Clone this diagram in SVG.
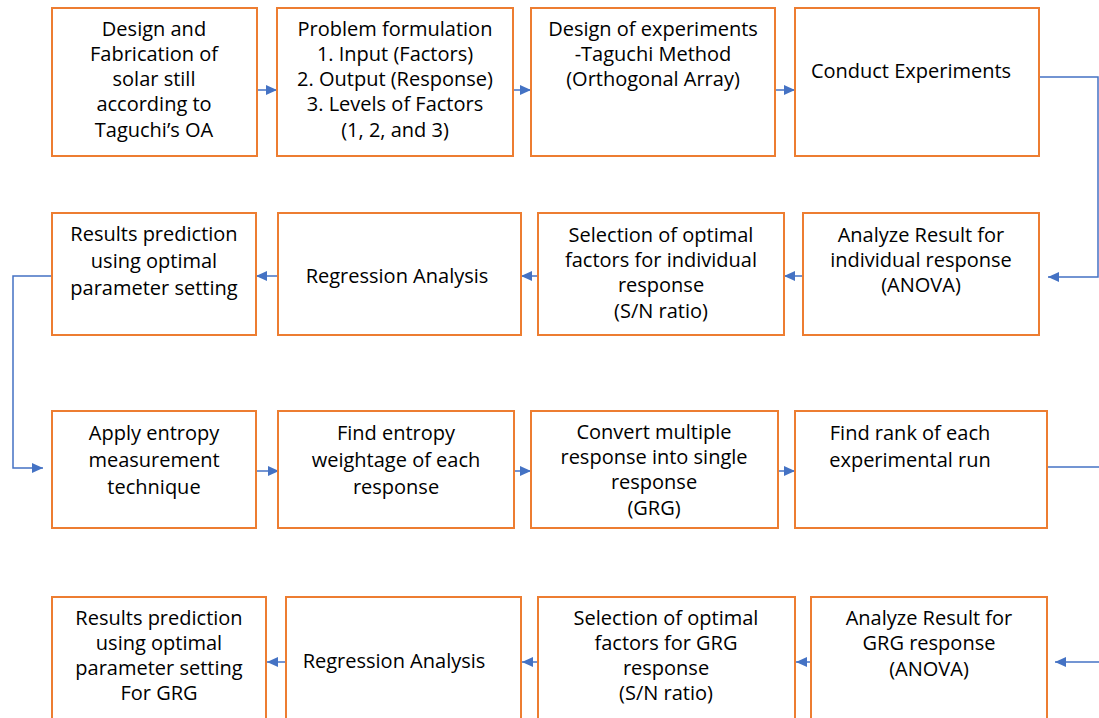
<svg xmlns="http://www.w3.org/2000/svg" width="1099" height="718" viewBox="0 0 1099 718">
<style>
.box{fill:#fff;stroke:#ED7D31;stroke-width:2}
.t{font-family:"Open Sans","Liberation Sans",sans-serif;font-size:20px;fill:#000;text-anchor:middle}
.c{fill:none;stroke:#4472C4;stroke-width:1.5}
</style>
<defs>
<marker id="ah" markerUnits="userSpaceOnUse" markerWidth="12" markerHeight="10" refX="11" refY="5" orient="auto">
<path d="M0,0 L11,5 L0,10 Z" fill="#4472C4"/>
</marker>
</defs>
<rect width="1099" height="718" fill="#fff"/>

<g id="connectors">
<line class="c" x1="257" y1="90" x2="277" y2="90" marker-end="url(#ah)"/>
<line class="c" x1="513" y1="90" x2="531" y2="90" marker-end="url(#ah)"/>
<line class="c" x1="775" y1="90" x2="795" y2="90" marker-end="url(#ah)"/>
<polyline class="c" points="1039,77 1098,77 1098,277 1048,277" marker-end="url(#ah)"/>
<line class="c" x1="803" y1="276" x2="784" y2="276" marker-end="url(#ah)"/>
<line class="c" x1="538" y1="276" x2="521" y2="276" marker-end="url(#ah)"/>
<line class="c" x1="278" y1="276" x2="256" y2="276" marker-end="url(#ah)"/>
<polyline class="c" points="52,276 13,276 13,468 43,468" marker-end="url(#ah)"/>
<line class="c" x1="256" y1="471" x2="279" y2="471" marker-end="url(#ah)"/>
<line class="c" x1="514" y1="471" x2="531" y2="471" marker-end="url(#ah)"/>
<line class="c" x1="778" y1="471" x2="795" y2="471" marker-end="url(#ah)"/>
<line class="c" x1="1047" y1="467" x2="1099" y2="467"/>
<line class="c" x1="1099" y1="662" x2="1055" y2="662" marker-end="url(#ah)"/>
<line class="c" x1="811" y1="662" x2="796" y2="662" marker-end="url(#ah)"/>
<line class="c" x1="538" y1="662" x2="522" y2="662" marker-end="url(#ah)"/>
<line class="c" x1="286" y1="662" x2="267" y2="662" marker-end="url(#ah)"/>
</g>

<g id="n1">
<rect class="box" x="52" y="8" width="205" height="148"/>
<text class="t" x="154" y="36">Design and</text>
<text class="t" x="154" y="61">Fabrication of</text>
<text class="t" x="154" y="86">solar still</text>
<text class="t" x="154" y="111">according to</text>
<text class="t" x="154" y="137">Taguchi’s OA</text>
</g>
<g id="n2">
<rect class="box" x="277" y="8" width="236" height="148"/>
<text class="t" x="395" y="36">Problem formulation</text>
<text class="t" x="395" y="61">1. Input (Factors)</text>
<text class="t" x="395" y="86">2. Output (Response)</text>
<text class="t" x="395" y="111">3. Levels of Factors</text>
<text class="t" x="395" y="137">(1, 2, and 3)</text>
</g>
<g id="n3">
<rect class="box" x="531" y="8" width="244" height="148"/>
<text class="t" x="653" y="36">Design of experiments</text>
<text class="t" x="653" y="61">-Taguchi Method</text>
<text class="t" x="653" y="86">(Orthogonal Array)</text>
</g>
<g id="n4">
<rect class="box" x="795" y="8" width="244" height="148"/>
<text class="t" x="911" y="78">Conduct Experiments</text>
</g>

<g id="n5">
<rect class="box" x="803" y="213" width="236" height="122"/>
<text class="t" x="921" y="242">Analyze Result for</text>
<text class="t" x="921" y="267">individual response</text>
<text class="t" x="921" y="292">(ANOVA)</text>
</g>
<g id="n6">
<rect class="box" x="538" y="213" width="246" height="122"/>
<text class="t" x="661" y="242">Selection of optimal</text>
<text class="t" x="661" y="267">factors for individual</text>
<text class="t" x="661" y="292">response</text>
<text class="t" x="661" y="318">(S/N ratio)</text>
</g>
<g id="n7">
<rect class="box" x="278" y="213" width="243" height="122"/>
<text class="t" x="397" y="283">Regression Analysis</text>
</g>
<g id="n8">
<rect class="box" x="52" y="213" width="204" height="122"/>
<text class="t" x="154" y="241">Results prediction</text>
<text class="t" x="154" y="268">using optimal</text>
<text class="t" x="154" y="295">parameter setting</text>
</g>

<g id="n9">
<rect class="box" x="52" y="411" width="204" height="117"/>
<text class="t" x="154" y="440">Apply entropy</text>
<text class="t" x="154" y="467">measurement</text>
<text class="t" x="154" y="494">technique</text>
</g>
<g id="n10">
<rect class="box" x="278" y="411" width="236" height="117"/>
<text class="t" x="396" y="440">Find entropy</text>
<text class="t" x="396" y="467">weightage of each</text>
<text class="t" x="396" y="494">response</text>
</g>
<g id="n11">
<rect class="box" x="531" y="411" width="247" height="117"/>
<text class="t" x="654" y="439">Convert multiple</text>
<text class="t" x="654" y="464">response into single</text>
<text class="t" x="654" y="489">response</text>
<text class="t" x="654" y="515">(GRG)</text>
</g>
<g id="n12">
<rect class="box" x="795" y="411" width="252" height="117"/>
<text class="t" x="910" y="440">Find rank of each</text>
<text class="t" x="910" y="467">experimental run</text>
</g>

<g id="n13">
<rect class="box" x="811" y="597" width="236" height="130"/>
<text class="t" x="929" y="625">Analyze Result for</text>
<text class="t" x="929" y="650">GRG response</text>
<text class="t" x="929" y="676">(ANOVA)</text>
</g>
<g id="n14">
<rect class="box" x="538" y="597" width="257" height="130"/>
<text class="t" x="666" y="625">Selection of optimal</text>
<text class="t" x="666" y="650">factors for GRG</text>
<text class="t" x="666" y="675">response</text>
<text class="t" x="666" y="700">(S/N ratio)</text>
</g>
<g id="n15">
<rect class="box" x="286" y="597" width="235" height="130"/>
<text class="t" x="394" y="668">Regression Analysis</text>
</g>
<g id="n16">
<rect class="box" x="52" y="597" width="214" height="130"/>
<text class="t" x="159" y="625">Results prediction</text>
<text class="t" x="159" y="650">using optimal</text>
<text class="t" x="159" y="675">parameter setting</text>
<text class="t" x="159" y="700">For GRG</text>
</g>
</svg>
